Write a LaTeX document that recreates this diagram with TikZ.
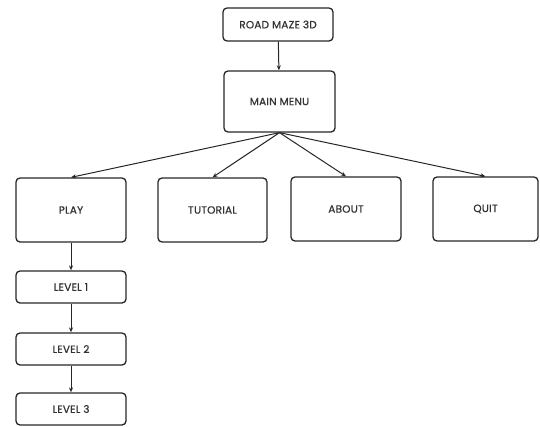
\documentclass[tikz,border=0pt]{standalone}
\usepackage{fontspec}
\setmainfont{Poppins}[LetterSpace=2,FakeBold=0.8]
\usepackage{tikz}
\usetikzlibrary{arrows.meta,positioning}
\usepackage{xcolor}
\definecolor{cline}{HTML}{262626}
\definecolor{ctext}{HTML}{333333}

\begin{document}
\begin{tikzpicture}[x=1pt,y=-1pt,
    box/.style={draw=cline, line width=1.3pt, rounded corners=4pt,
                font=\fontsize{10.5}{12}\selectfont, text=ctext, inner sep=0pt},
    arr/.style={-{Stealth[length=5pt,width=4pt]}, draw=cline, line width=1pt}]
    \useasboundingbox (0,0) rectangle (540,426);
    % title and menu
    \node[box, minimum width=110pt, minimum height=33pt] (title) at (278,24.5) {ROAD MAZE 3D};
    \node[box, minimum width=111pt, minimum height=61pt] (menu) at (279.5,101.5) {MAIN MENU};
    % menu entries
    \node[box, minimum width=110pt, minimum height=64pt] (play) at (71,210) {PLAY};
    \node[box, minimum width=109pt, minimum height=64pt] (tutorial) at (212.5,210) {TUTORIAL};
    \node[box, minimum width=110pt, minimum height=64pt] (about) at (346,209) {ABOUT};
    \node[box, minimum width=105pt, minimum height=64pt] (quit) at (485.5,209) {QUIT};
    % levels
    \node[box, minimum width=110pt, minimum height=32pt] (lvl1) at (71,287) {LEVEL 1};
    \node[box, minimum width=110pt, minimum height=32pt] (lvl2) at (71,349) {LEVEL 2};
    \node[box, minimum width=110pt, minimum height=32pt] (lvl3) at (71,409) {LEVEL 3};

    \draw[arr] (title) -- (menu);
    \foreach \n in {play,tutorial,about,quit}
      \draw[arr] (menu.south) -- (\n.north);
    \draw[arr] (play) -- (lvl1);
    \draw[arr] (lvl1) -- (lvl2);
    \draw[arr] (lvl2) -- (lvl3);
  \end{tikzpicture}
\end{document}
